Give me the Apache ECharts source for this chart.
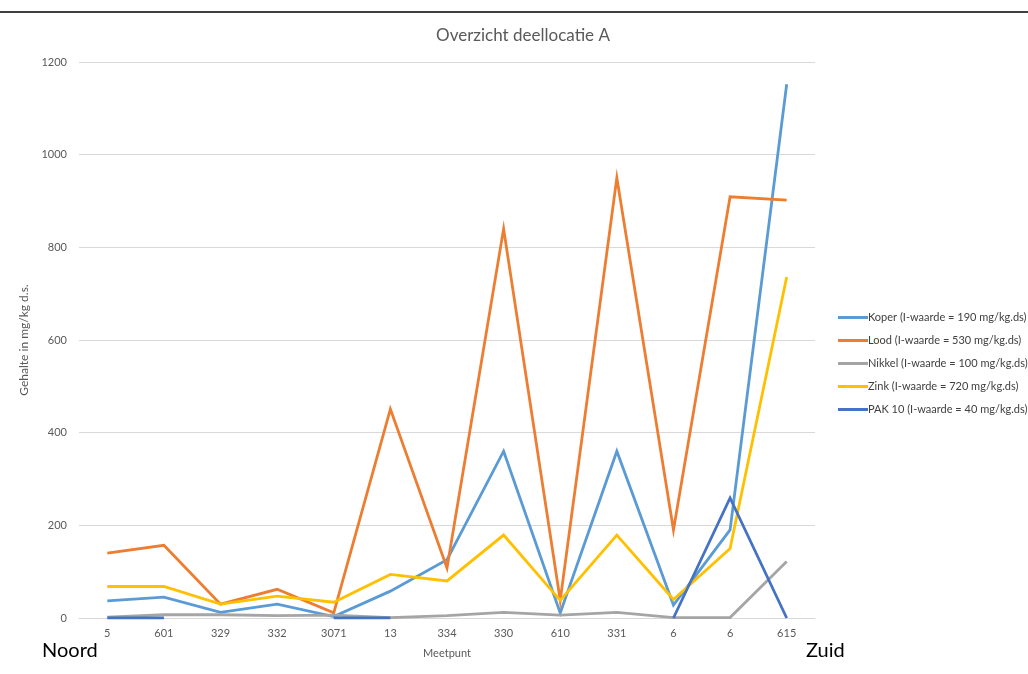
<!DOCTYPE html>
<html>
<head>
<meta charset="utf-8">
<script src="https://cdn.jsdelivr.net/npm/echarts@6/dist/echarts.min.js"></script>
<style>
  html, body { margin: 0; padding: 0; background: #fff; }
  #chart { width: 1028px; height: 674px; }
</style>
</head>
<body>
<div id="chart"></div>
<script>
// Meetpunten van noord naar zuid
const meetpunten = ['5', '601', '329', '332', '3071', '13', '334', '330', '610', '331', '6', '6', '615'];

// Gehalten in mg/kg d.s.
const koper  = [37, 45, 12, 30, 3, 58, 126, 360, 11, 360, 28, 190, 1152];
const lood   = [140, 157, 30, 62, 11, 451, 108, 840, 38, 950, 190, 909, 902];
const nikkel = [2, 7, 7, 5, 6, 1, 5, 12, 6, 12, 1, 1, 122];
const zink   = [68, 68, 30, 47, 34, 94, 80, 179, 38, 179, 40, 150, 736];
const pak10  = [0, 0, null, null, 0, 0, null, null, null, null, 0, 259, 0];

const reeksNamen = [
  'Koper (I-waarde = 190 mg/kg.ds)',
  'Lood (I-waarde = 530 mg/kg.ds)',
  'Nikkel (I-waarde = 100 mg/kg.ds)',
  'Zink (I-waarde = 720 mg/kg.ds)',
  'PAK 10 (I-waarde = 40 mg/kg.ds)'
];
const yTicks = [0, 200, 400, 600, 800, 1000, 1200];

const kleuren = ['#5B9BD5', '#ED7D31', '#A5A5A5', '#FFC000', '#4472C4'];
const reeksData = [koper, lood, nikkel, zink, pak10];
const font = 'Lato, "Open Sans", sans-serif';

const chart = echarts.init(document.getElementById('chart'), null, { renderer: 'canvas' });

chart.setOption({
  backgroundColor: '#ffffff',
  animation: false,
  color: kleuren,
  legend: {
    orient: 'vertical',
    left: 833, top: 307,
    itemWidth: 30, itemHeight: 3, itemGap: 12,
    icon: 'rect',
    data: reeksNamen,
    textStyle: { fontFamily: font, fontSize: 11, color: '#404040', padding: [0, 0, 0, -5] }
  },
  grid: { left: 79, right: 213, top: 62, bottom: 56, containLabel: false },
  xAxis: {
    type: 'category',
    data: meetpunten,
    boundaryGap: true,
    name: 'Meetpunt',
    nameLocation: 'middle',
    nameGap: 30,
    nameTextStyle: { fontFamily: font, fontSize: 11, color: '#595959' },
    axisLine: { show: true, lineStyle: { color: '#d9d9d9' } },
    axisTick: { show: false },
    axisLabel: { fontFamily: font, fontSize: 11, color: '#595959', margin: 10 }
  },
  yAxis: {
    type: 'value',
    min: yTicks[0], max: yTicks[yTicks.length - 1], interval: 200,
    name: 'Gehalte in mg/kg d.s.',
    nameLocation: 'middle',
    nameGap: 34,
    nameTextStyle: { fontFamily: font, fontSize: 12, color: '#595959' },
    axisLine: { show: false },
    axisTick: { show: false },
    axisLabel: { fontFamily: font, fontSize: 11, color: '#595959', margin: 12, formatter: v => String(v) },
    splitLine: { lineStyle: { color: '#d9d9d9', width: 1 } }
  },
  series: reeksNamen.map((naam, i) => ({
    name: naam,
    type: 'line',
    data: reeksData[i],
    symbol: 'none',
    connectNulls: false,
    lineStyle: { width: 2.8, color: kleuren[i], join: 'miter' },
    z: 2 + i
  })),
  graphic: [
    { type: 'line', shape: { x1: 0, y1: 12, x2: 1028, y2: 12 }, style: { stroke: '#000', lineWidth: 1.5 } },
    { type: 'text', x: 523, y: 36, style: { text: 'Overzicht deellocatie A', fontFamily: font, fontSize: 17, fill: '#595959', align: 'center', verticalAlign: 'middle' } },
    { type: 'text', left: 42, top: 641, style: { text: 'Noord', fontFamily: font, fontSize: 20, fill: '#000' } },
    { type: 'text', left: 806, top: 641, style: { text: 'Zuid', fontFamily: font, fontSize: 20, fill: '#000' } }
  ]
});
</script>
</body>
</html>
